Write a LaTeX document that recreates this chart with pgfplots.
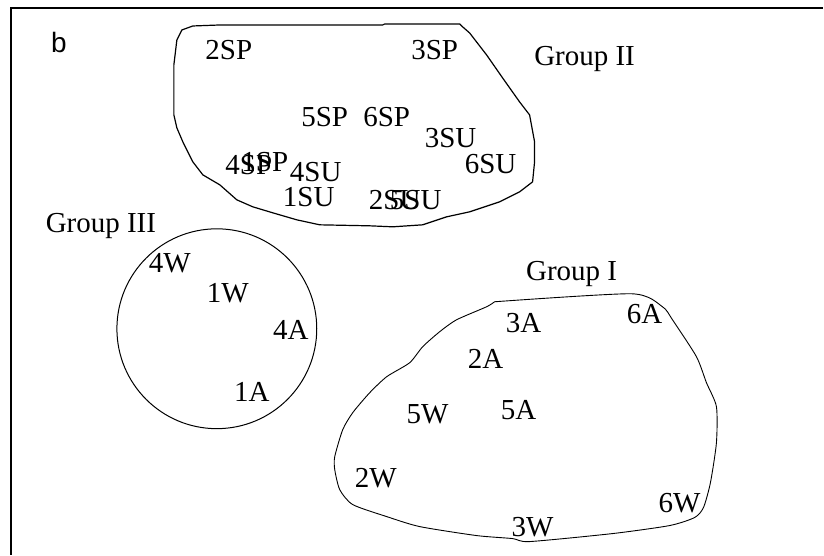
\documentclass[border=0pt]{standalone}
\usepackage{pgfplots}
\pgfplotsset{compat=1.18}
\usepackage{fontspec}
\setmainfont{Liberation Serif}
\newfontfamily\arialfont{Liberation Sans}
\begin{document}
\begin{tikzpicture}
\begin{axis}[
  x=1pt, y=1pt, y dir=reverse,
  xmin=0, xmax=824, ymin=0, ymax=555,
  scale only axis, hide axis, clip=false,
  every node near coord/.append style={anchor=base, inner sep=0pt, font=\fontsize{29}{30}\selectfont, text=black},
]
\path (axis cs:0,0) rectangle (axis cs:824,555);
% frame (left and top)
\addplot[black, line width=1.3pt, mark=none] coordinates {(11,555) (11,8) (824,8)};
% Group II outline
\addplot[black, line width=1.2pt, mark=none] coordinates {
(193,26) (220,25) (300,25) (383,25) (385,24) (460,24) (462,26) (470,33) (487,55) (503,78) (520,102) (530,115) (535,142) (535,162) (533,182) (520,192) (500,202) (470,212) (447,217) (423,225) (393,227) (370,226) (320,225) (297,220) (273,213) (253,207) (237,200) (220,185) (203,175) (193,162) (183,142) (177,128) (174,115) (174,65) (177,40) (182,30) (193,26)};
% Group I outline
\addplot[black, line width=0.9pt, mark=none, smooth, tension=0.4] coordinates {
(495,302) (632,294) (663,307) (673,320) (697,357) (707,383) (717,407) (717,443) (711,483) (704,508) (695,518) (670,526) (613,534) (530,542) (513,539) (477,536) (420,527) (387,517) (353,505) (340,490) (335,470) (335,457) (343,430) (353,413) (370,393) (387,377) (410,363) (423,347) (440,332) (457,320) (487,307) (495,302)};
% Group III circle
\draw[black, line width=1pt] (axis cs:217,329) circle [radius=100pt];
% point labels
\addplot[only marks, mark=none, nodes near coords, point meta=explicit symbolic] table[meta=label] {
x y label
229 60 2SP
435 60 3SP
325 127 5SP
387 127 6SP
451 148 3SU
491 174 6SU
249 175 4SP
265 172 1SP
316 182 4SU
309 207 1SU
395 210 2SU
416 210 5SU
170 273 4W
228 303 1W
291 340 4A
252 402 1A
524 333 3A
645 324 6A
486 369 2A
428 424 5W
519 420 5A
376 488 2W
533 537 3W
680 513 6W
};
% group labels
\addplot[only marks, mark=none, nodes near coords, point meta=explicit symbolic] table[meta=label, col sep=comma] {
x,y,label
585,66,Group II
101,233,Group III
572,281,Group I
};
\addplot[only marks, mark=none, nodes near coords, point meta=explicit symbolic,
  every node near coord/.append style={font=\arialfont\fontsize{28}{30}\selectfont}] table[meta=label] {
x y label
59 53 b
};
\end{axis}
\end{tikzpicture}
\end{document}
